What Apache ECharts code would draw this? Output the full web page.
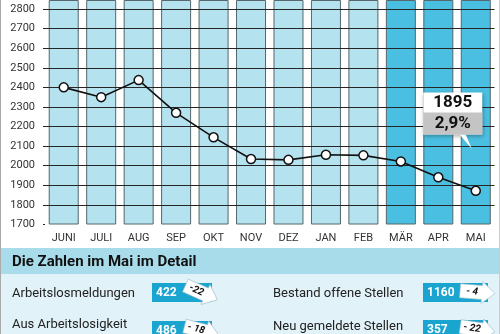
<!DOCTYPE html>
<html><head><meta charset="utf-8">
<script src="https://cdn.jsdelivr.net/npm/echarts@6/dist/echarts.min.js"></script>
<style>html,body{margin:0;padding:0;background:#fff}#c{width:500px;height:334px}</style>
</head><body><div id="c"></div>
<script>
// ---- data ----
const months = ['JUNI','JULI','AUG','SEP','OKT','NOV','DEZ','JAN','FEB','MÄR','APR','MAI'];
const values = [2400, 2350, 2437, 2270, 2145, 2034, 2030, 2056, 2053, 2022, 1941, 1872];
const columnTops = [2846, 2846, 2846, 2846, 2846, 2846, 2846, 2846, 2846, 2846, 2846, 2846];
const highlighted = [false, false, false, false, false, false, false, false, false, true, true, true];
const yMin = 1700, yMax = 2800, yStep = 100;
const calloutValue = '1895';
const calloutRate = '2,9%';
const detailTitle = 'Die Zahlen im Mai im Detail';
const detailLabels = ['Arbeitslosmeldungen', 'Bestand offene Stellen', 'Aus Arbeitslosigkeit\nabgemeldet', 'Neu gemeldete Stellen'];
const detailValues = ['422', '1160', '486', '357'];
const detailChanges = ['-22', '- 4', '- 18', '- 22'];

// ---- styles ----
const FONT = 'Roboto';
const LIGHT = '#b5e2ef', DARK = '#4bbfe1', TEAL = '#1aa5d1';

const chart = echarts.init(document.getElementById('c'), null, {renderer: 'canvas'});

const lastIdx = values.length - 1;
const lineData = values.map((v, i) => i === lastIdx ? {
  value: v,
  label: {
    show: true, position: 'top', distance: 0, offset: [-23, -51],
    backgroundColor: '#fff',
    shadowColor: 'rgba(0,0,0,0.35)', shadowBlur: 4, shadowOffsetX: 1, shadowOffsetY: 1,
    formatter: '{a|' + calloutValue + '}\n{b|' + calloutRate + '}',
    rich: {
      a: {fontFamily: FONT, fontSize: 17, fontWeight: 'bold', color: '#111', width: 59, height: 20, align: 'center', lineHeight: 20},
      b: {fontFamily: FONT, fontSize: 17, fontWeight: 'bold', color: '#111', width: 59, height: 22, align: 'center', lineHeight: 22, backgroundColor: '#c4c4c4'}
    }
  }
} : v);

const option = {
  animation: false,
  backgroundColor: '#fff',
  grid: {left: 45, right: 5.5, top: 9, height: 215.5, containLabel: false, outerBoundsMode: 'none'},
  xAxis: {
    type: 'category', data: months,
    axisLine: {show: false}, axisTick: {show: false},
    axisLabel: {fontFamily: FONT, fontSize: 11, color: '#333', margin: 8}
  },
  yAxis: {
    type: 'value', min: yMin, max: yMax, interval: yStep, startValue: yMin, z: 5,
    axisLine: {show: false},
    axisTick: {show: true, length: 2, inside: false, lineStyle: {color: '#222'}},
    axisLabel: {fontFamily: FONT, fontSize: 11, color: '#333', margin: 10, formatter: v => String(v)},
    splitLine: {show: true, showMinLine: false, lineStyle: {color: '#262626', width: 1}}
  },
  series: [
    {
      type: 'bar', data: columnTops.map((v, i) => ({value: v, itemStyle: {color: highlighted[i] ? DARK : LIGHT}})),
      barWidth: 30, clip: false, silent: true, z: 2,
      itemStyle: {borderColor: '#55666c', borderWidth: 1}
    },
    {
      type: 'line', data: lineData, z: 10,
      symbol: 'circle', symbolSize: 9,
      lineStyle: {color: '#111', width: 1.6},
      itemStyle: {color: '#fff', borderColor: '#111', borderWidth: 1.5}
    }
  ]
};
chart.setOption(option);

// ---- callout tail + bottom detail panel ----
const p = chart.convertToPixel({seriesIndex: 1}, [lastIdx, values[lastIdx]]);
const graphics = [];
graphics.push({type: 'polygon', z: 20, shape: {points: [[p[0]-16, p[1]-56], [p[0]-10, p[1]-56], [p[0]-4, p[1]-42]]}, style: {fill: '#fff'}});

graphics.push({type: 'rect', shape: {x: 0, y: 248, width: 500, height: 26}, style: {fill: '#a9dcea'}});
graphics.push({type: 'rect', shape: {x: 0, y: 274, width: 500, height: 60}, style: {fill: '#e1f2f8'}});
graphics.push({type: 'text', x: 12, y: 262, style: {text: detailTitle, fontFamily: FONT, fontSize: 15, fontWeight: 'bold', fill: '#111', verticalAlign: 'middle'}});

const rowY = [293, 293, 324, 326];
const labelX = [12, 273, 12, 273];
const boxX = [152, 423, 152, 423];
const boxW = [60, 65, 60, 65];
const boxY = [283, 283, 321, 320];
const arrowRot = [-0.42, -0.08, -0.25, -0.15];
for (let i = 0; i < 4; i++) {
  graphics.push({type: 'text', x: labelX[i], y: rowY[i] - 7, style: {text: detailLabels[i], fontFamily: FONT, fontSize: 13, fill: '#222', verticalAlign: 'top', lineHeight: 16}});
  graphics.push({type: 'rect', shape: {x: boxX[i], y: boxY[i], width: boxW[i], height: 19}, style: {fill: TEAL}});
  graphics.push({type: 'text', x: boxX[i] + 4, y: boxY[i] + 10, style: {text: detailValues[i], fontFamily: FONT, fontSize: 12, fontWeight: 'bold', fill: '#fff', verticalAlign: 'middle'}});
  const cx = boxX[i] + boxW[i] - 12, cy = boxY[i] + 9;
  graphics.push({
    type: 'group', x: cx, y: cy, rotation: arrowRot[i], z: 15,
    children: [
      {type: 'polygon', shape: {points: [[-16,-7],[6,-7],[6,-11],[19,0],[6,11],[6,7],[-16,7]]}, style: {fill: '#fff', stroke: '#9bbcc6', lineWidth: 0.6}},
      {type: 'text', x: -4, y: 0, style: {text: detailChanges[i], fontFamily: FONT, fontSize: 10, fontWeight: 'bold', fontStyle: 'italic', fill: '#111', align: 'center', verticalAlign: 'middle'}}
    ]
  });
}
graphics.push({type: 'line', shape: {x1: 0.5, y1: 0, x2: 0.5, y2: 334}, style: {stroke: '#aaa', lineWidth: 1}, z: 30});
graphics.push({type: 'line', shape: {x1: 499.5, y1: 0, x2: 499.5, y2: 334}, style: {stroke: '#ccc', lineWidth: 1}, z: 30});
chart.setOption({graphic: graphics});
</script>
</body></html>
